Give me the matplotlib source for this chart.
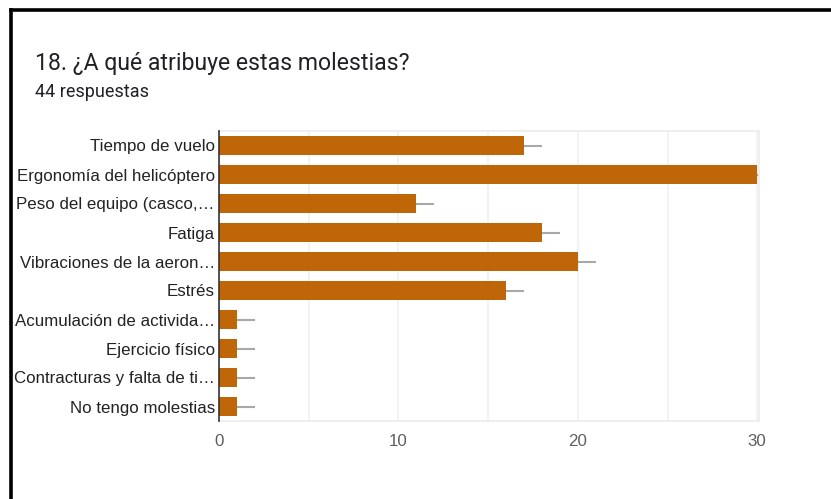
import matplotlib
matplotlib.use("Agg")
import matplotlib.pyplot as plt
from matplotlib.lines import Line2D
from matplotlib.ticker import MultipleLocator

# Respuestas de la pregunta 18 (44 respuestas en total)
categories = [
    "Tiempo de vuelo",
    "Ergonomía del helicóptero",
    "Peso del equipo (casco,…",
    "Fatiga",
    "Vibraciones de la aeron…",
    "Estrés",
    "Acumulación de activida…",
    "Ejercicio físico",
    "Contracturas y falta de ti…",
    "No tengo molestias",
]
counts = [17, 30, 11, 18, 20, 16, 1, 1, 1, 1]
xticks = [0, 10, 20, 30]

BAR = "#bf6609"
W, H = 831, 499

fig = plt.figure(figsize=(W / 100, H / 100), dpi=100)
fig.patch.set_facecolor("white")

# marco negro (solo arriba e izquierda)
fig.add_artist(Line2D([11 / W, 1.0], [1 - 10 / H, 1 - 10 / H], color="black", lw=2.6,
                      transform=fig.transFigure))
fig.add_artist(Line2D([11 / W, 11 / W], [0.0, 1 - 10 / H], color="black", lw=2.6,
                      transform=fig.transFigure))

fig.text(35 / W, 1 - 70 / H, "18. ¿A qué atribuye estas molestias?", fontsize=16.6,
         family="Roboto", color="#202124", va="baseline")
fig.text(35 / W, 1 - 97 / H, "44 respuestas", fontsize=13, family="Roboto",
         color="#202124", va="baseline")

left, right, top, bottom = 219, 759, 131, 421
ax = fig.add_axes([left / W, 1 - bottom / H, (right - left) / W, (bottom - top) / H])

y = list(range(len(categories)))
ax.barh(y, counts, height=0.64, color=BAR, zorder=3)
ax.errorbar(counts, y, xerr=[[0] * len(counts), [1] * len(counts)], fmt="none",
            ecolor="#a8a8a8", elinewidth=1.5, capsize=0, zorder=2)

ax.set_xlim(0, 30.1)
ax.set_ylim(len(categories) - 0.5, -0.5)
ax.set_yticks(y)
ax.set_yticklabels(categories, family="Liberation Sans", fontsize=12.2, color="#222222")
ax.set_xticks(xticks)
ax.set_xticklabels([str(t) for t in xticks], family="Liberation Sans", fontsize=12.2,
                   color="#5f5f5f")
ax.xaxis.set_minor_locator(MultipleLocator(5))
ax.tick_params(axis="both", which="both", length=0)
ax.tick_params(axis="y", pad=3)
ax.tick_params(axis="x", pad=9)
ax.grid(True, axis="x", which="both", color="#f0f0f0", lw=1.2, zorder=0)

for side in ("top", "right", "bottom"):
    ax.spines[side].set_color("#ececec")
    ax.spines[side].set_linewidth(1.2)
ax.spines["left"].set_color("#333333")
ax.spines["left"].set_linewidth(1.2)
ax.spines["left"].set_zorder(4)

fig.savefig("out.png", dpi=100)
